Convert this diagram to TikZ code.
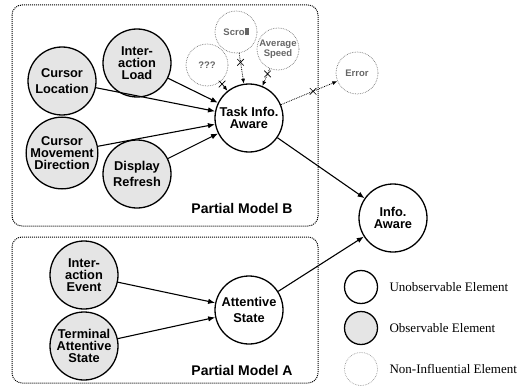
\documentclass[tikz,border=0pt]{standalone}
\usepackage{fontspec}
\setmainfont{Liberation Serif}
\setsansfont{Liberation Sans}
\usetikzlibrary{arrows.meta,shapes.misc}

\begin{document}
\begin{tikzpicture}[x=1pt, y=-1pt, >={Latex[length=7pt,width=5.5pt]},
	latent/.style={circle, draw, line width=1.3pt, minimum size=68pt, inner sep=0pt, align=center, font=\sffamily\bfseries\fontsize{12.8}{12.3}\selectfont},
	observed/.style={latent, fill=gray!20},
	ghost/.style={circle, draw=black!55, densely dotted, line width=0.7pt, minimum size=42pt, inner sep=0pt, align=center, text=black!60, font=\sffamily\bfseries\fontsize{9.5}{9.5}\selectfont},
	link/.style={->, line width=1.1pt},
	weak/.style={densely dotted, line width=0.8pt, -{Latex[length=5pt,width=4pt]}},
	xmark/.style={cross out, draw, solid, line width=0.6pt, minimum size=6pt, inner sep=0pt},
	partbox/.style={densely dotted, line width=1pt, rounded corners=10pt},
	keyname/.style={anchor=west, font=\fontsize{13}{13}\selectfont}]
	\useasboundingbox (0,0) rectangle (526,385);
	\draw[partbox] (12,5) rectangle (318,226);
	\draw[partbox] (12,237) rectangle (318,383);
	\node[font=\sffamily\bfseries\fontsize{14}{14}\selectfont] (labb) at (242,208) {Partial Model B};
	\node[font=\sffamily\bfseries\fontsize{14}{14}\selectfont] (laba) at (242,370) {Partial Model A};

	% partial model B
	\node[observed] (cloc) at (62,81) {Cursor\\[3pt]Location};
	\node[observed] (iload) at (137,63) {Inter-\\action\\Load};
	\node[observed] (cdir) at (62,153) {Cursor\\Movement\\Direction};
	\node[observed] (disp) at (137,174) {Display\\[3pt]Refresh};
	\node[latent] (task) at (249,118) {Task Info.\\Aware};
	\node[ghost] (unk) at (207,65) {???};
	\node[ghost] (scroll) at (236,32) {Scro\rule{4pt}{7pt}};
	\node[ghost] (speed) at (278,49) {Average\\Speed};
	\node[ghost] (err) at (357,73) {Error};

	% partial model A
	\node[observed] (ievt) at (84,275) {Inter-\\action\\Event};
	\node[observed] (term) at (84,346) {Terminal\\Attentive\\State};
	\node[latent] (att) at (249,310) {Attentive\\[3pt]State};

	\node[latent] (info) at (393,218) {Info.\\Aware};

	\draw[link] (cloc) -- (task);
	\draw[link] (iload) -- (task);
	\draw[link] (cdir) -- (task);
	\draw[link] (disp) -- (task);
	\draw[weak] (unk) -- node[xmark, pos=0.25] (xunk) {} (task);
	\draw[weak] (scroll) -- node[xmark, pos=0.3] (xscroll) {} (task);
	\draw[weak] (speed) -- node[xmark, pos=0.3] (xspeed) {} (task);
	\draw[weak] (task) -- node[xmark, pos=0.57] (xerr) {} (err);
	\draw[link] (task) -- (info);
	\draw[link] (ievt) -- (att);
	\draw[link] (term) -- (att);
	\draw[link] (att) -- (info);

	% legend
	\node[latent, minimum size=33pt] (keyu) at (361,287) {};
	\node[observed, minimum size=33pt] (keyo) at (361,328) {};
	\node[ghost, draw=black!40, minimum size=33pt] (keyn) at (361,369) {};
	\node[keyname] (keyut) at (386,287) {Unobservable Element};
	\node[keyname] (keyot) at (386,328) {Observable Element};
	\node[keyname] (keynt) at (386,369) {Non-Influential Element};
\end{tikzpicture}
\end{document}
